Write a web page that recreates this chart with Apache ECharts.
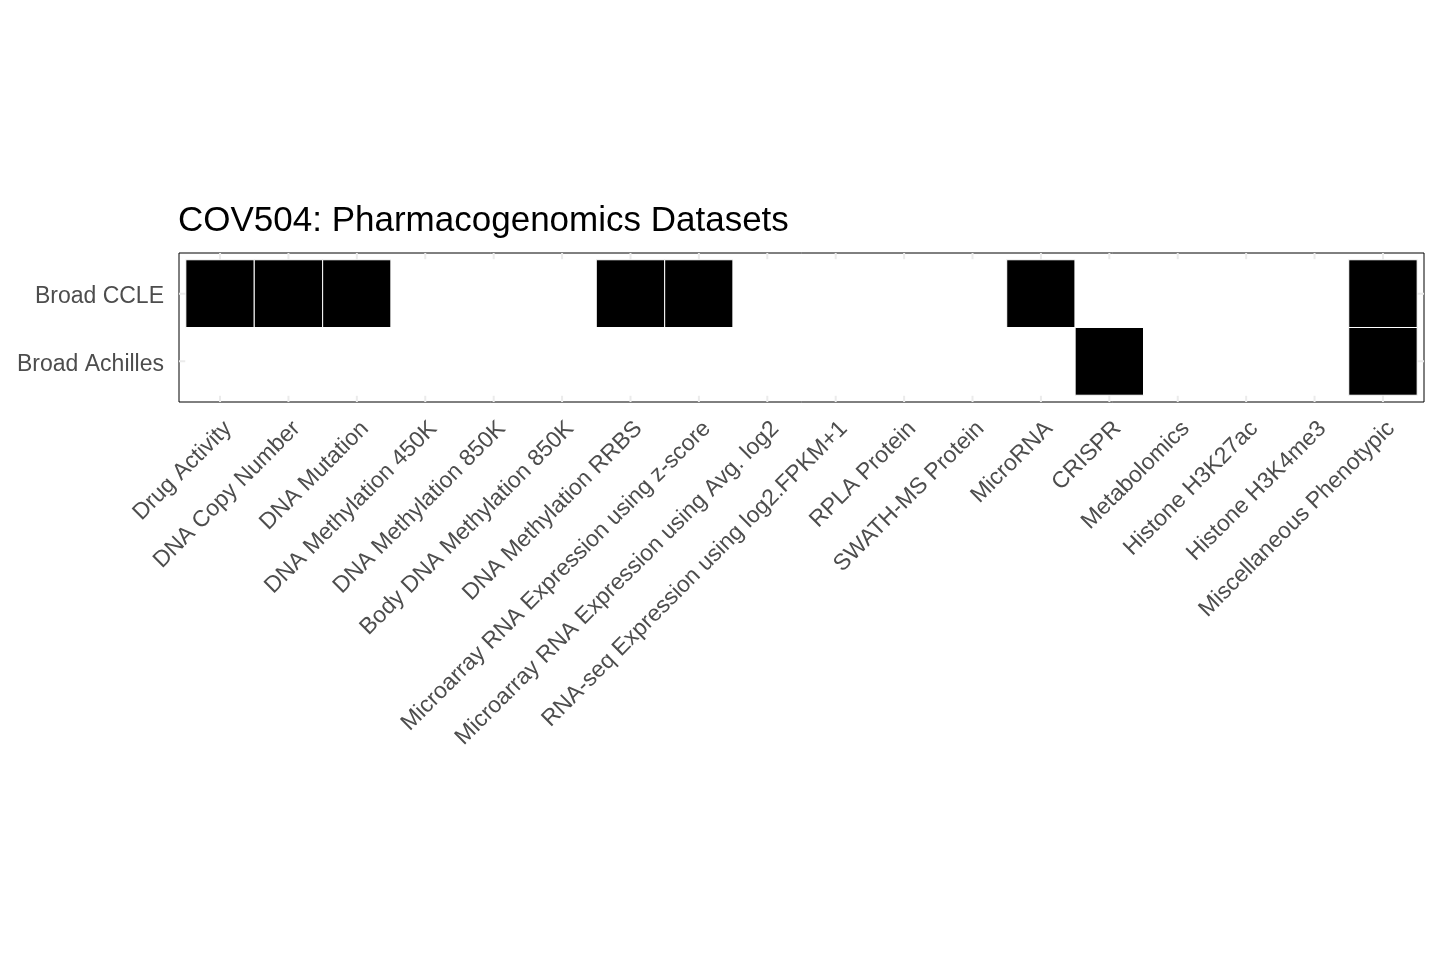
<!DOCTYPE html>
<html>
<head>
<meta charset="utf-8">
<script src="https://cdn.jsdelivr.net/npm/echarts@6/dist/echarts.min.js"></script>
<style>
html,body{margin:0;padding:0;background:#fff;}
#chart{width:1440px;height:960px;}
</style>
</head>
<body>
<div id="chart"></div>
<script>
var titleText = 'COV504: Pharmacogenomics Datasets';
var datasetTypes = [
  'Drug Activity',
  'DNA Copy Number',
  'DNA Mutation',
  'DNA Methylation 450K',
  'DNA Methylation 850K',
  'Body DNA Methylation 850K',
  'DNA Methylation RRBS',
  'Microarray RNA Expression using z-score',
  'Microarray RNA Expression using Avg. log2',
  'RNA-seq Expression using log2.FPKM+1',
  'RPLA Protein',
  'SWATH-MS Protein',
  'MicroRNA',
  'CRISPR',
  'Metabolomics',
  'Histone H3K27ac',
  'Histone H3K4me3',
  'Miscellaneous Phenotypic'
];
var sources = ['Broad CCLE', 'Broad Achilles'];
var ccleAvailable     = [1,1,1,0,0,0,1,1,0,0,0,0,1,0,0,0,0,1];
var achillesAvailable = [0,0,0,0,0,0,0,0,0,0,0,0,0,1,0,0,0,1];
var availability = [ccleAvailable, achillesAvailable];

var xIdx = datasetTypes.map(function(_, i){ return i; });
var yIdx = sources.map(function(_, i){ return i; });
var PAD = 0.6;

var tileData = [];
availability.forEach(function(row, yi){
  row.forEach(function(v, xi){ tileData.push([xi, yi, v]); });
});
var vGrid = xIdx.map(function(i){ return [i, 'v']; });
var hGrid = yIdx.map(function(i){ return [i, 'h']; });

var chart = echarts.init(document.getElementById('chart'), null, {renderer:'canvas'});
var FONT = '"Liberation Sans", Arial, Helvetica, sans-serif';

chart.setOption({
  animation: false,
  backgroundColor: '#fff',
  title: {
    text: titleText,
    left: 173,
    top: 199,
    textStyle: {fontFamily: FONT, fontSize: 35, fontWeight: 'normal', color: '#000'}
  },
  grid: {
    left: 179, right: 16, top: 253, height: 149,
    show: true, borderColor: '#000', borderWidth: 1, backgroundColor: '#fff',
    containLabel: false
  },
  xAxis: {
    type: 'value',
    min: -PAD, max: datasetTypes.length - 1 + PAD,
    axisLine: {show: false},
    axisTick: {show: false, customValues: xIdx},
    splitLine: {show: false},
    axisLabel: {
      customValues: xIdx,
      rotate: 45,
      align: 'right',
      verticalAlign: 'top',
      margin: 15,
      fontFamily: FONT, fontSize: 23, color: '#4d4d4d',
      formatter: function(v){ return datasetTypes[Math.round(v)] || ''; }
    }
  },
  yAxis: {
    type: 'value',
    inverse: true,
    min: -PAD, max: sources.length - 1 + PAD,
    axisLine: {show: false},
    axisTick: {show: false, customValues: yIdx},
    splitLine: {show: false},
    axisLabel: {
      customValues: yIdx,
      margin: 15,
      fontFamily: FONT, fontSize: 23, color: '#4d4d4d',
      formatter: function(v){ return '{l|' + (sources[Math.round(v)] || '') + '}'; },
      rich: {
        l: {fontFamily: FONT, fontSize: 23, color: '#4d4d4d', padding: [6, 0, 0, 0]}
      }
    }
  },
  series: [
    {
      type: 'custom',
      z: 1,
      silent: true,
      data: vGrid.concat(hGrid),
      encode: {x: 0},
      renderItem: function(params, api){
        var i = api.value(0), kind = vGrid.length > params.dataIndex ? 'v' : 'h';
        var p1, p2;
        if (kind === 'v') {
          p1 = api.coord([i, -PAD]); p2 = api.coord([i, sources.length - 1 + PAD]);
        } else {
          p1 = api.coord([-PAD, i]); p2 = api.coord([datasetTypes.length - 1 + PAD, i]);
        }
        return {type: 'line', shape: {x1: p1[0], y1: p1[1], x2: p2[0], y2: p2[1]},
                style: {stroke: '#ebebeb', lineWidth: 2}};
      }
    },
    {
      type: 'custom',
      z: 2,
      silent: true,
      data: tileData,
      encode: {x: 0, y: 1},
      renderItem: function(params, api){
        var x = api.value(0), y = api.value(1), v = api.value(2);
        var a = api.coord([x - 0.5, y - 0.5]);
        var b = api.coord([x + 0.5, y + 0.5]);
        var x0 = Math.min(a[0], b[0]), y0 = Math.min(a[1], b[1]);
        return {type: 'rect',
                shape: {x: x0, y: y0, width: Math.abs(b[0]-a[0]), height: Math.abs(b[1]-a[1])},
                style: {fill: v ? '#000' : '#fff', stroke: '#fff', lineWidth: 1}};
      }
    }
  ]
});
</script>
</body>
</html>
